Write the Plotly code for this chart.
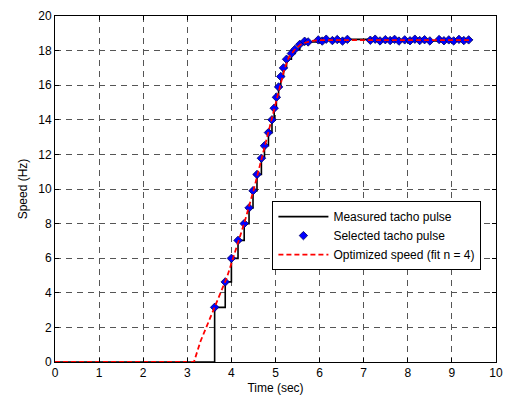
import plotly.graph_objects as go

# Selected tacho pulse (time sec, speed Hz)
sel_t = [3.62, 3.86, 4.00, 4.15, 4.29, 4.40, 4.49, 4.58, 4.68, 4.75, 4.84, 4.92,
         4.97, 5.02, 5.07, 5.12, 5.18, 5.25, 5.36, 5.44, 5.55, 5.66, 5.74,
         5.97, 6.06, 6.15, 6.29, 6.40, 6.52, 6.63,
         7.15, 7.26, 7.37, 7.49, 7.60, 7.70, 7.80, 7.93, 8.05, 8.16, 8.27, 8.38, 8.50,
         8.71, 8.82, 8.93, 9.04, 9.16, 9.27, 9.38]
sel_v = [3.16, 4.63, 5.99, 7.03, 8.00, 8.91, 9.90, 10.84, 11.78, 12.50, 13.26, 14.00,
         14.67, 15.30, 15.90, 16.50, 17.00, 17.50, 17.83, 18.07, 18.36, 18.54, 18.50,
         18.62, 18.55, 18.66, 18.58, 18.64, 18.55, 18.65,
         18.60, 18.66, 18.56, 18.63, 18.58, 18.65, 18.55, 18.62, 18.57, 18.66, 18.58, 18.63, 18.56,
         18.64, 18.57, 18.62, 18.56, 18.65, 18.58, 18.62]

# Measured tacho pulse (step line)
meas_t = [0.0] + sel_t + [9.45]
meas_v = [0.0] + sel_v + [18.60]

# Optimized speed (polynomial fit n = 4)
opt_t = [0.0, 3.15, 3.30, 3.50, 3.70, 3.90, 4.10, 4.30, 4.50, 4.70, 4.90, 5.00,
         5.10, 5.20, 5.30, 5.45, 5.60, 5.80, 6.00, 9.40]
opt_v = [0.0, 0.0, 1.2, 2.4, 3.6, 4.9, 6.5, 8.1, 9.9, 11.9, 13.9, 15.0,
         16.0, 16.9, 17.6, 18.1, 18.4, 18.55, 18.6, 18.6]

x_ticks = list(range(0, 11))
y_ticks = list(range(0, 21, 2))

fig = go.Figure()
fig.add_trace(go.Scatter(x=meas_t, y=meas_v, mode="lines", line_shape="hv",
                         line=dict(color="black", width=1.6),
                         name="Measured tacho pulse"))
fig.add_trace(go.Scatter(x=sel_t, y=sel_v, mode="markers",
                         marker=dict(symbol="diamond", size=6.5, color="blue",
                                     line=dict(color="#000060", width=0.8)),
                         name="Selected tacho pulse"))
fig.add_trace(go.Scatter(x=opt_t, y=opt_v, mode="lines",
                         line=dict(color="red", width=1.8, dash="5px,3px"),
                         name="Optimized speed (fit n = 4)"))

axis_common = dict(showline=True, linecolor="black", linewidth=1, mirror="ticks",
                   ticks="inside", ticklen=4, tickcolor="black",
                   showgrid=True, gridcolor="#555", griddash="6px,5px", gridwidth=1,
                   zeroline=False, tickfont=dict(size=12, color="black"))

fig.update_xaxes(range=[0, 10], tickvals=x_ticks,
                 title=dict(text="Time (sec)", font=dict(size=12, color="black"), standoff=4),
                 **axis_common)
fig.update_yaxes(range=[0, 20], tickvals=y_ticks,
                 title=dict(text="Speed (Hz)", font=dict(size=12, color="black"), standoff=8),
                 **axis_common)

fig.update_layout(
    width=512, height=402,
    margin=dict(l=55, r=9, t=11, b=38),
    paper_bgcolor="white", plot_bgcolor="white",
    font=dict(family="Liberation Sans, Arial, sans-serif", size=12, color="black"),
    legend=dict(x=0.493, y=0.465, xanchor="left", yanchor="top",
                bgcolor="white", bordercolor="black", borderwidth=1,
                font=dict(size=12), tracegroupgap=0, itemwidth=50),
    showlegend=True,
)

fig.write_html("out.html")
